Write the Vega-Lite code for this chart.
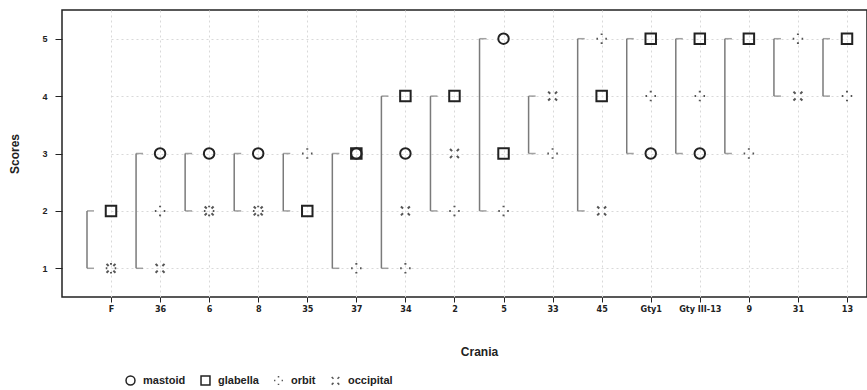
{
  "$schema": "https://vega.github.io/schema/vega-lite/v6.json",
  "width": 805,
  "height": 287,
  "autosize": {"type": "none"},
  "padding": {"left": 62, "top": 10, "right": 0, "bottom": 93},
  "background": "white",
  "config": {
    "view": {"stroke": "#222", "strokeWidth": 1.5},
    "font": "Liberation Sans",
    "axis": {
      "labelColor": "#222",
      "tickColor": "#222",
      "titleColor": "#222",
      "gridColor": "#d9d9d9",
      "gridDash": [2, 3],
      "labelFontWeight": "bold",
      "titleFontWeight": "bold"
    }
  },
  "data": {
    "values": [
      {"cranium": "F", "part": "glabella", "score": 2},
      {"cranium": "F", "part": "orbit", "score": 1},
      {"cranium": "F", "part": "occipital", "score": 1},
      {"cranium": "36", "part": "mastoid", "score": 3},
      {"cranium": "36", "part": "orbit", "score": 2},
      {"cranium": "36", "part": "occipital", "score": 1},
      {"cranium": "6", "part": "mastoid", "score": 3},
      {"cranium": "6", "part": "orbit", "score": 2},
      {"cranium": "6", "part": "occipital", "score": 2},
      {"cranium": "8", "part": "mastoid", "score": 3},
      {"cranium": "8", "part": "orbit", "score": 2},
      {"cranium": "8", "part": "occipital", "score": 2},
      {"cranium": "35", "part": "glabella", "score": 2},
      {"cranium": "35", "part": "orbit", "score": 3},
      {"cranium": "37", "part": "mastoid", "score": 3},
      {"cranium": "37", "part": "glabella", "score": 3},
      {"cranium": "37", "part": "orbit", "score": 1},
      {"cranium": "34", "part": "mastoid", "score": 3},
      {"cranium": "34", "part": "glabella", "score": 4},
      {"cranium": "34", "part": "orbit", "score": 1},
      {"cranium": "34", "part": "occipital", "score": 2},
      {"cranium": "2", "part": "glabella", "score": 4},
      {"cranium": "2", "part": "orbit", "score": 2},
      {"cranium": "2", "part": "occipital", "score": 3},
      {"cranium": "5", "part": "mastoid", "score": 5},
      {"cranium": "5", "part": "glabella", "score": 3},
      {"cranium": "5", "part": "orbit", "score": 2},
      {"cranium": "33", "part": "orbit", "score": 3},
      {"cranium": "33", "part": "occipital", "score": 4},
      {"cranium": "45", "part": "glabella", "score": 4},
      {"cranium": "45", "part": "orbit", "score": 5},
      {"cranium": "45", "part": "occipital", "score": 2},
      {"cranium": "Gty1", "part": "mastoid", "score": 3},
      {"cranium": "Gty1", "part": "glabella", "score": 5},
      {"cranium": "Gty1", "part": "orbit", "score": 4},
      {"cranium": "Gty III-13", "part": "mastoid", "score": 3},
      {"cranium": "Gty III-13", "part": "glabella", "score": 5},
      {"cranium": "Gty III-13", "part": "orbit", "score": 4},
      {"cranium": "9", "part": "glabella", "score": 5},
      {"cranium": "9", "part": "orbit", "score": 3},
      {"cranium": "31", "part": "orbit", "score": 5},
      {"cranium": "31", "part": "occipital", "score": 4},
      {"cranium": "13", "part": "glabella", "score": 5},
      {"cranium": "13", "part": "orbit", "score": 4}
    ]
  },
  "resolve": {"axis": {"x": "independent", "y": "independent"}},
  "layer": [
    {
      "transform": [
        {"aggregate": [{"op": "min", "field": "score", "as": "lo"}, {"op": "max", "field": "score", "as": "hi"}], "groupby": ["cranium"]}
      ],
      "mark": {"type": "rule", "xOffset": -24, "color": "#7a7a7a", "strokeWidth": 1.5},
      "encoding": {
        "x": {
          "field": "cranium", "type": "nominal",
          "scale": {"type": "point", "domain": ["F", "36", "6", "8", "35", "37", "34", "2", "5", "33", "45", "Gty1", "Gty III-13", "9", "31", "13"], "range": [49, 785], "padding": 0},
          "axis": null
        },
        "y": {
          "field": "lo", "type": "quantitative",
          "scale": {"domain": [0.5, 5.5], "nice": false, "zero": false},
          "axis": null
        },
        "y2": {"field": "hi"}
      }
    },
    {
      "transform": [
        {"aggregate": [{"op": "min", "field": "score", "as": "lo"}, {"op": "max", "field": "score", "as": "hi"}], "groupby": ["cranium"]}
      ],
      "mark": {"type": "tick", "orient": "horizontal", "size": 7, "thickness": 1.5, "xOffset": -20.5, "color": "#7a7a7a"},
      "encoding": {
        "x": {"field": "cranium", "type": "nominal", "axis": null},
        "y": {"field": "lo", "type": "quantitative", "axis": null}
      }
    },
    {
      "transform": [
        {"aggregate": [{"op": "min", "field": "score", "as": "lo"}, {"op": "max", "field": "score", "as": "hi"}], "groupby": ["cranium"]}
      ],
      "mark": {"type": "tick", "orient": "horizontal", "size": 7, "thickness": 1.5, "xOffset": -20.5, "color": "#7a7a7a"},
      "encoding": {
        "x": {"field": "cranium", "type": "nominal", "axis": null},
        "y": {"field": "hi", "type": "quantitative", "axis": null}
      }
    },
    {
      "mark": {"type": "point", "filled": false, "strokeWidth": 2, "size": 110, "opacity": 1},
      "encoding": {
        "x": {
          "field": "cranium", "type": "nominal",
          "axis": {"orient": "bottom", "labelFont": "DejaVu Sans Condensed, Liberation Sans", "labelFontSize": 9, "labelAngle": 0, "tickSize": 5, "labelPadding": 2, "domain": false, "grid": true, "title": "Crania", "titleFontSize": 12, "titlePadding": 33}
        },
        "y": {
          "field": "score", "type": "quantitative",
          "axis": {"orient": "left", "values": [1, 2, 3, 4, 5], "tickSize": 7, "labelPadding": 8, "labelFontSize": 9, "domain": false, "grid": true, "title": "Scores", "titleFontSize": 12, "titlePadding": 20}
        },
        "shape": {
          "field": "part", "type": "nominal",
          "scale": {
            "domain": ["mastoid", "glabella", "orbit", "occipital"],
            "range": [
              "circle",
              "square",
              "M0,-1L0,-0.7M1,0L0.7,0M0,1L0,0.7M-1,0L-0.7,0",
              "M-0.85,-0.85L-0.45,-0.45M0.85,-0.85L0.45,-0.45M-0.85,0.85L-0.45,0.45M0.85,0.85L0.45,0.45"
            ]
          },
          "legend": {"orient": "none", "legendX": 63, "legendY": 365, "direction": "horizontal", "title": null, "labelFontSize": 11, "labelFontWeight": "bold", "labelColor": "#222", "symbolSize": 80, "symbolStrokeWidth": 1.5, "columnPadding": 12, "labelOffset": 7}
        },
        "color": {
          "field": "part", "type": "nominal",
          "scale": {"domain": ["mastoid", "glabella", "orbit", "occipital"], "range": ["#222222", "#222222", "#555555", "#555555"]},
          "legend": {"orient": "none", "legendX": 63, "legendY": 365, "direction": "horizontal", "title": null, "labelFontSize": 11, "labelFontWeight": "bold", "labelColor": "#222", "symbolSize": 80, "symbolStrokeWidth": 1.5, "columnPadding": 12, "labelOffset": 7}
        }
      }
    }
  ]
}
